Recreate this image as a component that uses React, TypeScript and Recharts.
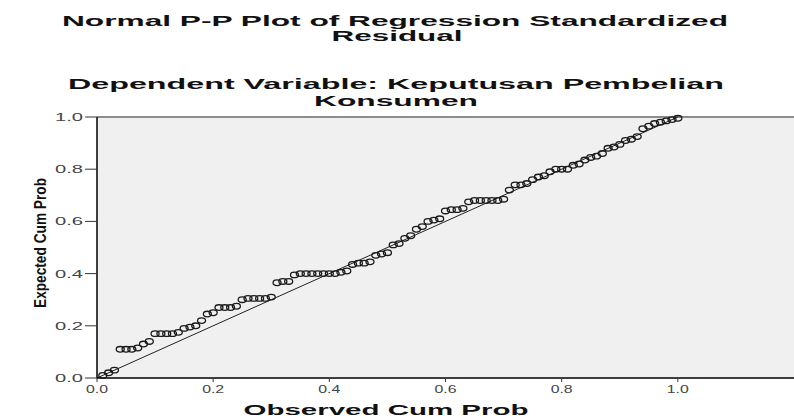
import React from 'react';
import {
  ScatterChart,
  Scatter,
  XAxis,
  YAxis,
  CartesianGrid,
  ReferenceLine,
} from 'recharts';

// observed cumulative probability (empirical) of each residual
const observed = [
  0.01, 0.02, 0.03, 0.04, 0.05, 0.06, 0.07, 0.08, 0.09, 0.1,
  0.11, 0.12, 0.13, 0.14, 0.15, 0.16, 0.17, 0.18, 0.19, 0.2,
  0.21, 0.22, 0.23, 0.24, 0.25, 0.26, 0.27, 0.28, 0.29, 0.3,
  0.31, 0.32, 0.33, 0.34, 0.35, 0.36, 0.37, 0.38, 0.39, 0.4,
  0.41, 0.42, 0.43, 0.44, 0.45, 0.46, 0.47, 0.48, 0.49, 0.5,
  0.51, 0.52, 0.53, 0.54, 0.55, 0.56, 0.57, 0.58, 0.59, 0.6,
  0.61, 0.62, 0.63, 0.64, 0.65, 0.66, 0.67, 0.68, 0.69, 0.7,
  0.71, 0.72, 0.73, 0.74, 0.75, 0.76, 0.77, 0.78, 0.79, 0.8,
  0.81, 0.82, 0.83, 0.84, 0.85, 0.86, 0.87, 0.88, 0.89, 0.9,
  0.91, 0.92, 0.93, 0.94, 0.95, 0.96, 0.97, 0.98, 0.99, 1.0,
];

// expected cumulative probability under normality
const expected = [
  0.01, 0.02, 0.03, 0.11, 0.11, 0.11, 0.115, 0.13, 0.14, 0.17,
  0.17, 0.17, 0.17, 0.175, 0.19, 0.195, 0.2, 0.22, 0.245, 0.25,
  0.27, 0.27, 0.27, 0.275, 0.3, 0.305, 0.305, 0.305, 0.305, 0.31,
  0.365, 0.37, 0.37, 0.395, 0.4, 0.4, 0.4, 0.4, 0.4, 0.4,
  0.4, 0.405, 0.41, 0.435, 0.44, 0.44, 0.445, 0.47, 0.475, 0.48,
  0.51, 0.515, 0.535, 0.545, 0.57, 0.58, 0.6, 0.605, 0.61, 0.64,
  0.645, 0.645, 0.65, 0.675, 0.68, 0.68, 0.68, 0.68, 0.68, 0.685,
  0.72, 0.74, 0.74, 0.745, 0.76, 0.77, 0.775, 0.79, 0.8, 0.8,
  0.8, 0.815, 0.82, 0.835, 0.845, 0.85, 0.86, 0.88, 0.885, 0.895,
  0.91, 0.915, 0.925, 0.955, 0.965, 0.975, 0.98, 0.985, 0.99, 0.995,
];

const xTicks = [0, 0.2, 0.4, 0.6, 0.8, 1.0];
const yTicks = [0, 0.2, 0.4, 0.6, 0.8, 1.0];

const titleLines = ['Normal P-P Plot of Regression Standardized', 'Residual'];
const subtitleLines = ['Dependent Variable: Keputusan Pembelian', 'Konsumen'];
const xLabel = 'Observed Cum Prob';
const yLabel = 'Expected Cum Prob';

const points = observed.map((x, i) => ({ x, y: expected[i] }));

const W = 794;
const H = 418;
const FONT = 'Arial, "Liberation Sans", Helvetica, sans-serif';

const XTick = (props: any) => {
  const { x, y, payload } = props;
  return (
    <text
      x={x}
      y={y + 9}
      textAnchor="middle"
      fontFamily={FONT}
      fontSize={11}
      fill="#444"
      textLength={22}
      lengthAdjust="spacingAndGlyphs"
    >
      {payload.value.toFixed(1)}
    </text>
  );
};

const YTick = (props: any) => {
  const { x, y, payload } = props;
  return (
    <text
      x={x}
      y={y + 4}
      textAnchor="end"
      fontFamily={FONT}
      fontSize={11}
      fill="#444"
      textLength={28}
      lengthAdjust="spacingAndGlyphs"
    >
      {payload.value.toFixed(1)}
    </text>
  );
};

const Dot = (props: any) => {
  const { cx, cy } = props;
  if (cx == null || cy == null) return null;
  return <ellipse cx={cx} cy={cy} rx={4} ry={2.8} fill="none" stroke="#1a1a1a" strokeWidth={1.3} />;
};

export default function App() {
  return (
    <div style={{ position: 'absolute', left: 0, top: 0, width: W, height: H, background: '#fff' }}>
      <ScatterChart width={W} height={H} margin={{ top: 117, right: 0, bottom: 0, left: 67 }}>
        <CartesianGrid fill="#f0f0f0" horizontal={false} vertical={false} stroke="none" />
        <XAxis
          type="number"
          dataKey="x"
          domain={[0, 1.2]}
          ticks={xTicks}
          height={40}
          tickSize={4}
          tickMargin={2}
          tick={<XTick />}
          axisLine={{ stroke: '#000', strokeWidth: 1.5 }}
          tickLine={{ stroke: '#333' }}
        />
        <YAxis
          type="number"
          dataKey="y"
          domain={[0, 1]}
          ticks={yTicks}
          width={30}
          tickSize={12}
          tickMargin={2}
          tick={<YTick />}
          axisLine={{ stroke: '#000', strokeWidth: 1.5 }}
          tickLine={{ stroke: '#333' }}
        />
        <ReferenceLine y={1} stroke="#8c8c8c" strokeWidth={2} />
        <ReferenceLine
          segment={[
            { x: 0, y: 0 },
            { x: 1, y: 1 },
          ]}
          stroke="#222"
          strokeWidth={1}
        />
        <Scatter data={points} shape={<Dot />} isAnimationActive={false} />
      </ScatterChart>
      <svg
        width={W}
        height={H}
        style={{ position: 'absolute', left: 0, top: 0, pointerEvents: 'none' }}
        fontFamily={FONT}
        fontWeight="bold"
        fill="#111"
      >
        <text x={395} y={26} textAnchor="middle" fontSize={15} textLength={666} lengthAdjust="spacingAndGlyphs">
          {titleLines[0]}
        </text>
        <text x={397} y={41} textAnchor="middle" fontSize={15} textLength={131} lengthAdjust="spacingAndGlyphs">
          {titleLines[1]}
        </text>
        <text x={396} y={89} textAnchor="middle" fontSize={14} textLength={656} lengthAdjust="spacingAndGlyphs">
          {subtitleLines[0]}
        </text>
        <text x={396} y={106} textAnchor="middle" fontSize={14} textLength={164} lengthAdjust="spacingAndGlyphs">
          {subtitleLines[1]}
        </text>
        <text x={386} y={415} textAnchor="middle" fontSize={15} textLength={285} lengthAdjust="spacingAndGlyphs">
          {xLabel}
        </text>
        <text
          transform="translate(46,243) rotate(-90) scale(1,1.3)"
          textAnchor="middle"
          fontSize={13}
          textLength={130}
          lengthAdjust="spacingAndGlyphs"
        >
          {yLabel}
        </text>
      </svg>
    </div>
  );
}
